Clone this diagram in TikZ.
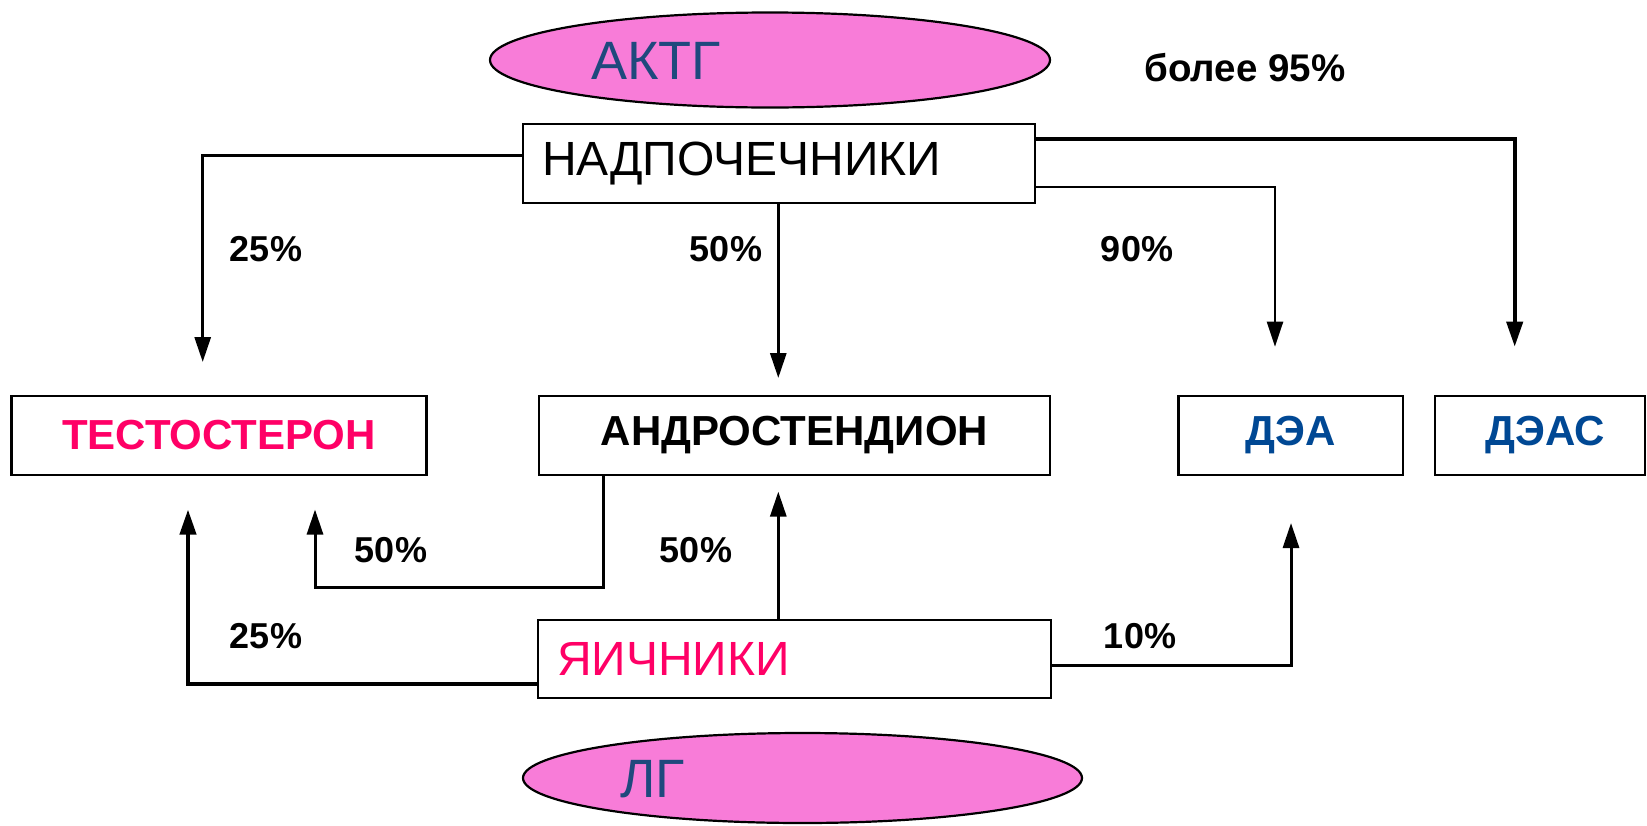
\documentclass[tikz,border=0pt]{standalone}
\usepackage{fontspec}
\setmainfont{Liberation Sans}
\usetikzlibrary{arrows.meta,shapes.geometric}
\definecolor{ellfill}{RGB}{248,124,216}
\definecolor{elltext}{RGB}{31,73,125}
\definecolor{hotpink}{RGB}{255,0,102}
\definecolor{deablue}{RGB}{0,72,148}
\begin{document}
\begin{tikzpicture}[x=1pt,y=-1pt,
  box/.style={draw=black,line width=2.8pt,fill=white,minimum height=79pt,inner sep=0pt},
  leftbox/.style={box,align=left,inner xsep=19pt},
  bigreg/.style={font=\fontsize{48}{56}\selectfont},
  bigbold/.style={font=\fontsize{42}{50}\selectfont\bfseries},
  pct/.style={font=\fontsize{36}{42}\selectfont\bfseries,inner sep=0pt},
  hormone/.style={ellipse,draw=black,line width=2.2pt,fill=ellfill,inner sep=0pt},
  elltxt/.style={anchor=west,inner sep=0pt,text=elltext,font=\fontsize{54}{62}\selectfont},
  conn/.style={line width=3pt,-{Triangle[length=25pt,width=16pt]}},
  thin conn/.style={conn,line width=2.4pt},
  thick conn/.style={conn,line width=4pt}]
\useasboundingbox (0,0) rectangle (1647,825);

% hormone ellipses
\node[hormone,minimum width=560pt,minimum height=95pt] (actg) at (770,60) {};
\node[elltxt] (actgt) at (591,61) {АКТГ};
\node[hormone,minimum width=559pt,minimum height=90pt] (lg) at (802.5,778) {};
\node[elltxt] (lgt) at (620,779) {ЛГ};

% boxes
\node[leftbox,bigreg,minimum width=512pt,text width=474pt] (nad) at (779,163.5) {НАДПОЧЕЧНИКИ};
\node[box,bigbold,minimum width=415pt,text=hotpink] (test) at (219,435.5) {ТЕСТОСТЕРОН};
\node[box,bigbold,minimum width=511pt] (andr) at (794.5,435.5) {АНДРОСТЕНДИОН};
\node[box,bigbold,minimum width=224.5pt,text=deablue] (dea) at (1290.75,435.5) {ДЭА};
\node[box,bigbold,minimum width=210pt,text=deablue] (deas) at (1540,435.5) {\hspace*{10pt}ДЭАС};
\node[leftbox,bigreg,minimum width=511pt,minimum height=78pt,text width=475pt,text=hotpink] (yaich) at (794.5,659) {ЯИЧНИКИ};

% connector ends
\coordinate (e1) at (202.7,362);
\coordinate (e2) at (778.3,378);
\coordinate (e3) at (1275,346.7);
\coordinate (e4) at (1514.7,346.7);
\coordinate (c5) at (315,587);
\coordinate (e5) at (315,509.5);
\coordinate (e6) at (778.3,491.6);
\coordinate (e7) at (188,509.5);
\coordinate (e8) at (1291,523);

% connectors
\draw[conn] (nad.west |- 0,155.5) -| (e1);
\draw[conn] (nad.south -| e2) -- (e2);
\draw[thin conn] (nad.east |- 0,187) -| (e3);
\draw[thick conn] (nad.east |- 0,138.7) -| (e4);
\draw[conn] (andr.south -| 603,0) |- (c5) -- (e5);
\draw[conn] (yaich.north -| e6) -- (e6);
\draw[thick conn] (yaich.west |- 0,684) -| (e7);
\draw[conn] (yaich.east |- 0,665) -| (e8);

% labels
\node[pct] (l1) at (266,249) {25\%};
\node[pct] (l2) at (726,249) {50\%};
\node[pct] (l3) at (1137,249) {90\%};
\node[pct] (l4) at (391,550) {50\%};
\node[pct] (l5) at (696,550) {50\%};
\node[pct] (l6) at (266,636) {25\%};
\node[pct] (l7) at (1140,636) {10\%};
\node[pct,font=\fontsize{38.5}{44}\selectfont\bfseries] (l8) at (1245,68) {более 95\%};
\end{tikzpicture}
\end{document}
